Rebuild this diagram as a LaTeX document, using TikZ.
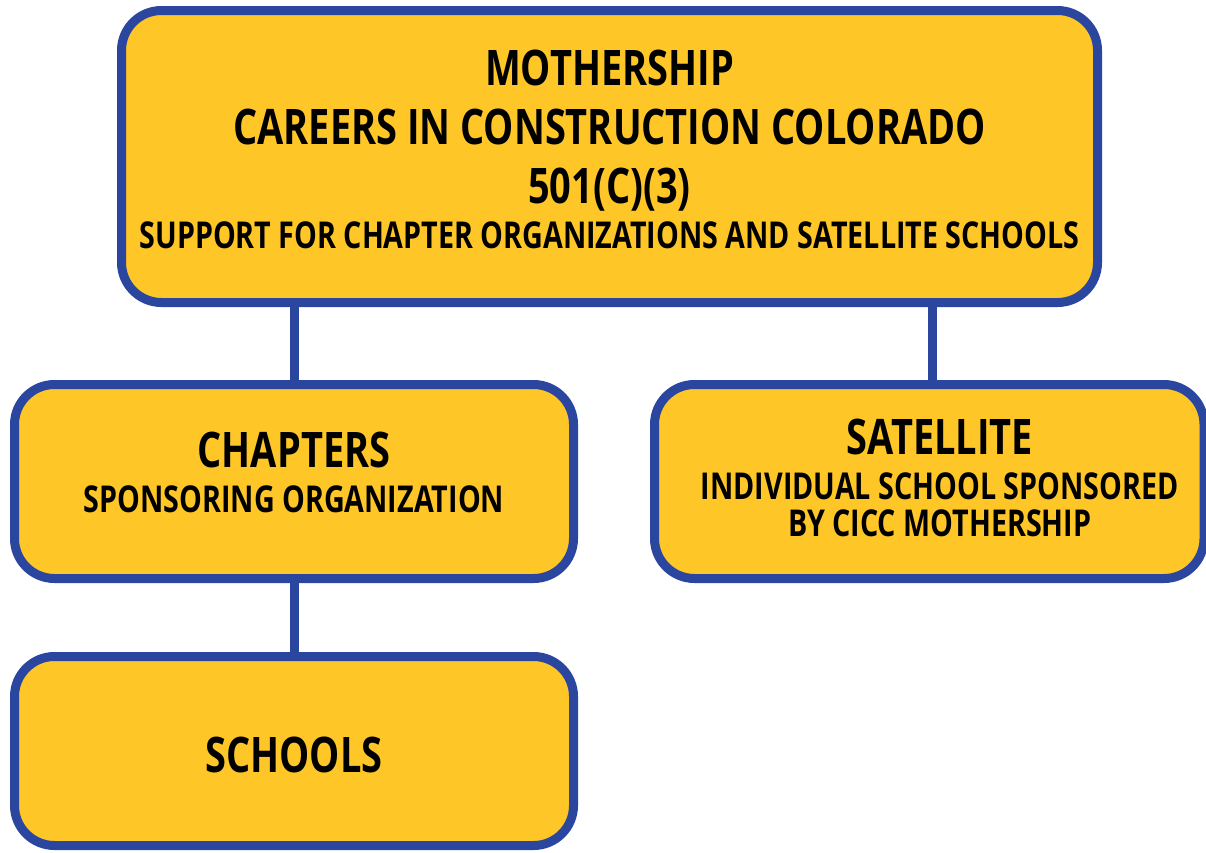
\documentclass[tikz,border=0pt]{standalone}
\usepackage{fontspec}
\newfontfamily\ciccfont[FakeStretch=0.775]{Open Sans}
\definecolor{ciccyellow}{RGB}{255,198,39}
\definecolor{ciccblue}{RGB}{42,70,158}
\tikzset{basic box/.style={draw=ciccblue,
                           fill=ciccyellow,
                           line width=9pt,
                           rounded corners=40pt,
                           align=center,
                           inner sep=0pt}}
\tikzset{link/.style={draw=ciccblue,line width=9pt}}
\newcommand{\ciccbig}{\fontsize{49}{59}\selectfont}
\newcommand{\ciccsmall}{\fontsize{37}{37}\selectfont}

\begin{document}
\begin{tikzpicture}
      [
      x=1pt,y=-1pt,
      my box/.style={basic box,
      font=\ciccfont\bfseries\ciccbig},
      ]
      \useasboundingbox (0,0) rectangle (1206,852);

      % boxes
      \node [my box,minimum width=976pt,minimum height=292pt,text depth=15pt]
      (mother) at (609.5,156.5)
      {MOTHERSHIP\\
       CAREERS IN CONSTRUCTION COLORADO\\
       501(C)(3)\\[-14pt]
       \ciccsmall SUPPORT FOR CHAPTER ORGANIZATIONS AND SATELLITE SCHOOLS};

      \node [my box,minimum width=559pt,minimum height=194pt,text depth=19pt]
      (chapters) at (294,481.5)
      {CHAPTERS\\[-14pt]
       \ciccsmall SPONSORING ORGANIZATION};

      % text sits a little right of the box centre
      \node [my box,minimum width=549.5pt,minimum height=194pt,text depth=8pt]
      (satellite) at (929.25,481.5)
      {\hspace*{21pt}SATELLITE\\[-14pt]
       \ciccsmall\hspace*{21pt}INDIVIDUAL SCHOOL SPONSORED\\[-22pt]
       \ciccsmall\hspace*{21pt}BY CICC MOTHERSHIP};

      \node [my box,minimum width=559pt,minimum height=189pt,text height=43pt,text depth=0pt]
      (schools) at (294,751)
      {SCHOOLS};

      % links
      \draw [link] (chapters.north) -- (chapters.north |- mother.south);
      \draw [link] ([xshift=3pt]satellite.north) -- ([xshift=3pt]satellite.north |- mother.south);
      \draw [link] (schools.north) -- (chapters.south);

\end{tikzpicture}
\end{document}
